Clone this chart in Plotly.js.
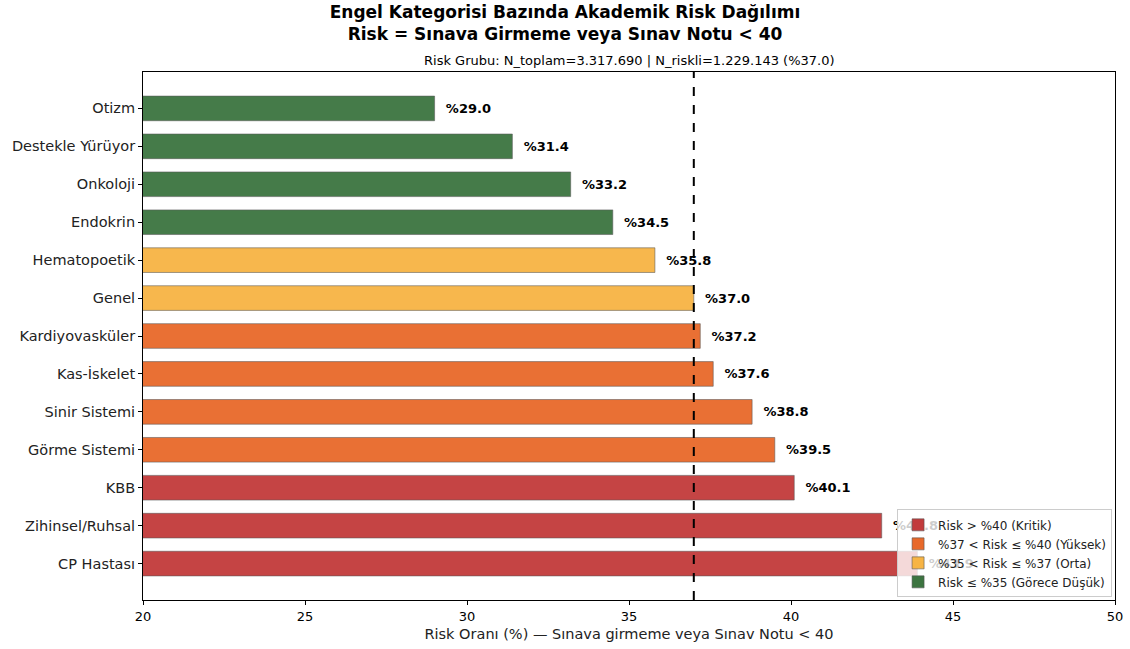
<!DOCTYPE html>
<html>
<head>
<meta charset="utf-8">
<script src="https://cdn.plot.ly/plotly-3.0.1.min.js"></script>
<style>html,body{margin:0;padding:0;background:#fff;} #chart{width:1130px;height:649px;}</style>
</head>
<body>
<div id="chart"></div>
<script>
const categories = ["Otizm","Destekle Yürüyor","Onkoloji","Endokrin","Hematopoetik","Genel","Kardiyovasküler","Kas-İskelet","Sinir Sistemi","Görme Sistemi","KBB","Zihinsel/Ruhsal","CP Hastası"];
const riskValues = [29.0,31.4,33.2,34.5,35.8,37.0,37.2,37.6,38.8,39.5,40.1,42.8,43.9];
const overallRisk = 37.0;
const groupNames = ["Risk > %40 (Kritik)","%37 < Risk ≤ %40 (Yüksek)","%35 < Risk ≤ %37 (Orta)","Risk ≤ %35 (Görece Düşük)"];
const groupColors = ["#c23b3b","#e8692a","#f7b444","#3c7440"];
const xTicks = [20,25,30,35,40,45,50];

function groupOf(v){
  if (v > 40) return 0;
  if (v > 37) return 1;
  if (v > 35) return 2;
  return 3;
}

const traces = groupNames.map((name, g) => {
  const xs = [], ys = [], txt = [];
  riskValues.forEach((v, i) => {
    if (groupOf(v) === g) { xs.push(v); ys.push(i); txt.push('\u00a0\u00a0<b>%' + v.toFixed(1) + '</b>'); }
  });
  return {
    type: 'bar', orientation: 'h', name: name,
    x: xs, y: ys, base: 0, width: 0.65,
    text: txt, textposition: 'outside', cliponaxis: false, constraintext: 'none',
    textfont: {family: 'DejaVu Sans', size: 13, color: '#000'},
    marker: {color: groupColors[g], opacity: 0.95, line: {color: 'rgba(80,80,80,0.7)', width: 0.8}},
    hoverinfo: 'x+y'
  };
});

const annotations = [{
  x: 0.5, y: 1.0, xref: 'paper', yref: 'paper', yanchor: 'bottom', yshift: 2,
  text: 'Risk Grubu: N_toplam=3.317.690 | N_riskli=1.229.143 (%37.0)', showarrow: false,
  font: {family: 'DejaVu Sans', size: 13, color: '#000'}
}];

const layout = {
  width: 1130, height: 649,
  margin: {l: 143, r: 15, t: 72, b: 49},
  paper_bgcolor: '#fff', plot_bgcolor: '#fff',
  font: {family: 'DejaVu Sans', size: 13, color: '#000'},
  title: {
    text: '<b>Engel Kategorisi Bazında Akademik Risk Dağılımı<br>Risk = Sınava Girmeme veya Sınav Notu < 40</b>',
    x: 0.5, xanchor: 'center', yref: 'container', y: 0.972, yanchor: 'middle',
    font: {family: 'DejaVu Sans', size: 17, color: '#000'}
  },
  barmode: 'overlay',
  showlegend: true,
  legend: {
    x: 0.997, y: 0.005, xanchor: 'right', yanchor: 'bottom',
    bgcolor: 'rgba(255,255,255,0.8)', bordercolor: '#cccccc', borderwidth: 1,
    font: {family: 'DejaVu Sans', size: 12, color: '#222'},
    tracegroupgap: 0, itemwidth: 30
  },
  xaxis: {
    range: [20, 50], tickvals: xTicks, ticktext: xTicks.map(String),
    showgrid: false, zeroline: false, showline: true, linecolor: '#000', linewidth: 1, mirror: true,
    ticks: 'outside', ticklen: 4, tickcolor: '#000',
    tickfont: {family: 'DejaVu Sans', size: 13, color: '#000'},
    title: {text: 'Risk Oranı (%) — Sınava girmeme veya Sınav Notu < 40', standoff: 6, font: {family: 'DejaVu Sans', size: 14.5, color: '#222'}}
  },
  yaxis: {
    range: [12.96, -0.96], tickvals: categories.map((c, i) => i), ticktext: categories,
    showgrid: false, zeroline: false, showline: true, linecolor: '#000', linewidth: 1, mirror: true,
    ticks: 'outside', ticklen: 4, tickcolor: '#000',
    tickfont: {family: 'DejaVu Sans', size: 14.5, color: '#222'}
  },
  shapes: [{
    type: 'line', xref: 'x', yref: 'paper', x0: overallRisk, x1: overallRisk, y0: 0, y1: 1,
    line: {color: '#000', width: 2, dash: 'dash'}
  }],
  annotations: annotations
};

Plotly.newPlot('chart', traces, layout, {displayModeBar: false});
</script>
</body>
</html>
